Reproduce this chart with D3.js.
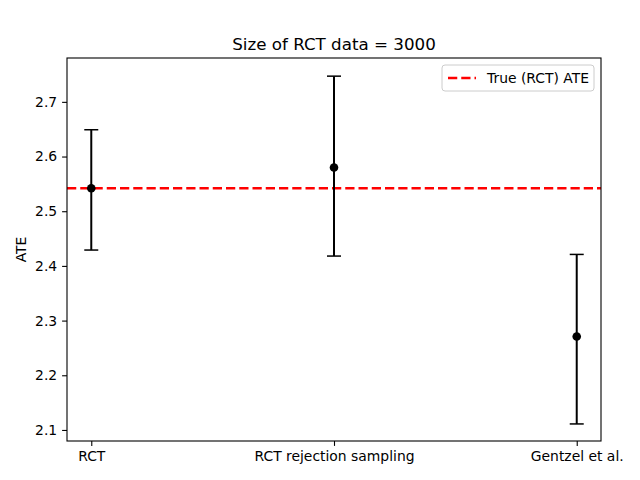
<!DOCTYPE html>
<html>
<head>
<meta charset="utf-8">
<script src="https://cdn.jsdelivr.net/npm/d3@7"></script>
<style>
  body { margin: 0; background: #fff; }
  svg { font-family: "DejaVu Sans", sans-serif; }
</style>
</head>
<body>
<svg id="chart" width="640" height="480"></svg>
<script>
// data
var methods = ["RCT", "RCT rejection sampling", "Gentzel et al."];
var ateMean = [2.542, 2.580, 2.271];
var ateLow = [2.429, 2.418, 2.111];
var ateHigh = [2.649, 2.747, 2.421];
var trueAte = 2.542;
var yTicks = [2.1, 2.2, 2.3, 2.4, 2.5, 2.6, 2.7];

var margin = {top: 58, right: 39, bottom: 39, left: 67};
var width = 640 - margin.left - margin.right;
var height = 480 - margin.top - margin.bottom;
var fs = 13.9;

var svg = d3.select("#chart");
var g = svg.append("g").attr("transform", "translate(" + margin.left + "," + margin.top + ")");

var x = d3.scaleLinear().domain([-0.1, 2.1]).range([0, width]);
var y = d3.scaleLinear().domain([2.0798, 2.7802]).range([height, 0]);

// axes
var xAxis = d3.axisBottom(x).tickValues([0, 1, 2])
  .tickFormat(function(d) { return methods[d]; })
  .tickSizeOuter(0).tickSize(4.9).tickPadding(4.9);
var yAxis = d3.axisLeft(y).tickValues(yTicks)
  .tickFormat(d3.format(".1f"))
  .tickSizeOuter(0).tickSize(4.9).tickPadding(4.9);

var gx = g.append("g").attr("transform", "translate(0," + height + ")").call(xAxis);
var gy = g.append("g").call(yAxis);
[gx, gy].forEach(function(a) {
  a.select(".domain").remove();
  a.selectAll("text").attr("font-size", fs).attr("fill", "#000")
    .style("font-family", "DejaVu Sans");
  a.selectAll("line").attr("stroke", "#000").attr("stroke-width", 1.1);
});

// true ATE line
g.append("line")
  .attr("x1", 0).attr("x2", width)
  .attr("y1", y(trueAte)).attr("y2", y(trueAte))
  .attr("stroke", "red").attr("stroke-width", 2.5)
  .attr("stroke-dasharray", "9.25,4");

// error bars
var pts = methods.map(function(m, i) {
  return {i: i, mean: ateMean[i], lo: ateLow[i], hi: ateHigh[i]};
});
var eb = g.selectAll(".eb").data(pts).enter().append("g").attr("class", "eb");
eb.append("line")
  .attr("x1", function(d) { return x(d.i); }).attr("x2", function(d) { return x(d.i); })
  .attr("y1", function(d) { return y(d.lo); }).attr("y2", function(d) { return y(d.hi); })
  .attr("stroke", "#000").attr("stroke-width", 2);
["lo", "hi"].forEach(function(k) {
  eb.append("line")
    .attr("x1", function(d) { return x(d.i) - 7; }).attr("x2", function(d) { return x(d.i) + 7; })
    .attr("y1", function(d) { return y(d[k]); }).attr("y2", function(d) { return y(d[k]); })
    .attr("stroke", "#000").attr("stroke-width", 1.5);
});
eb.append("circle")
  .attr("cx", function(d) { return x(d.i); })
  .attr("cy", function(d) { return y(d.mean); })
  .attr("r", 4.3).attr("fill", "#000");

// frame
g.append("rect").attr("width", width).attr("height", height)
  .attr("fill", "none").attr("stroke", "#000").attr("stroke-width", 1.1);

// labels
svg.append("text").attr("x", margin.left + width / 2).attr("y", 50)
  .attr("text-anchor", "middle").attr("font-size", 16.7)
  .text("Size of RCT data = 3000");
svg.append("text")
  .attr("transform", "translate(26," + (margin.top + height / 2) + ") rotate(-90)")
  .attr("text-anchor", "middle").attr("font-size", fs)
  .text("ATE");

// legend
var lg = g.append("g").attr("transform", "translate(" + (width - 159) + ",7)");
lg.append("rect").attr("width", 152).attr("height", 26).attr("rx", 3)
  .attr("fill", "#fff").attr("fill-opacity", 0.8)
  .attr("stroke", "#ccc").attr("stroke-width", 1);
lg.append("line").attr("x1", 6).attr("x2", 34).attr("y1", 13).attr("y2", 13)
  .attr("stroke", "red").attr("stroke-width", 2.5).attr("stroke-dasharray", "9.25,4");
lg.append("text").attr("x", 45).attr("y", 18).attr("font-size", fs).text("True (RCT) ATE");
</script>
</body>
</html>
